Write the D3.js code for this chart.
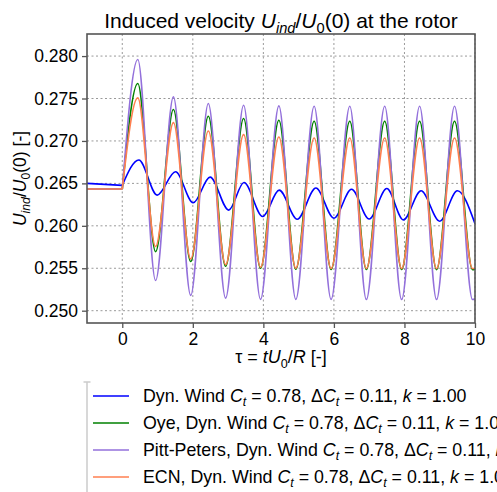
<!DOCTYPE html>
<html>
<head>
<meta charset="utf-8">
<script src="https://cdn.jsdelivr.net/npm/d3@7"></script>
<style>
  body { margin: 0; background: #fff; }
  svg { display: block; }
</style>
</head>
<body>
<div id="wrapper"></div>
<script>
// peaks / troughs
const tauBlue = [-1, 0, 0.47, 0.99, 1.51, 2.01, 2.49, 3.02, 3.45, 3.98, 4.45, 4.96, 5.49, 6.0, 6.5, 7.0, 7.5, 7.97, 8.47, 9.0, 9.5, 10]
const dynWind = [0.2650, 0.26476, 0.26775, 0.26362, 0.26637, 0.26271, 0.26574, 0.26185, 0.2651, 0.2611, 0.2642, 0.26077,
    0.26445, 0.2609, 0.2643, 0.2608, 0.2644, 0.2607, 0.26413, 0.26054, 0.26413, 0.26025]

const tauOsc = [-1, 0, 0.44, 0.945, 1.45, 1.94, 2.44, 2.93, 3.44, 3.92, 4.44, 4.92, 5.44, 5.92, 6.45, 6.92, 7.44, 7.92, 8.43, 8.91, 9.42, 9.93, 10]
const oye = [0.26433, 0.26433, 0.27677, 0.25695, 0.2737, 0.25579, 0.27291, 0.25523, 0.27264, 0.2550, 0.27244, 0.25488,
    0.27232, 0.25485, 0.27232, 0.25485, 0.27232, 0.25485, 0.27232, 0.25483, 0.27232, 0.25483, 0.2549]
const pittPeters = [0.26433, 0.26433, 0.2796, 0.25356, 0.27519, 0.2518, 0.27441, 0.25148, 0.27421, 0.25133, 0.27413, 0.25133,
    0.27409, 0.25133, 0.27409, 0.25131, 0.27409, 0.25131, 0.27409, 0.25131, 0.27409, 0.25131, 0.2514]
const ecn = [0.26433, 0.26433, 0.27507, 0.25756, 0.27216, 0.2561, 0.27117, 0.25543, 0.27074, 0.25512, 0.27046, 0.2550,
    0.27034, 0.25497, 0.27034, 0.25497, 0.27034, 0.25497, 0.27034, 0.25497, 0.27034, 0.25497, 0.2550]

const xTicks = [0, 2, 4, 6, 8, 10]
const yTicks = [0.250, 0.255, 0.260, 0.265, 0.270, 0.275, 0.280]
const seriesNames = ["Dyn. Wind", "Oye, Dyn. Wind", "Pitt-Peters, Dyn. Wind", "ECN, Dyn. Wind"]
const seriesColors = ["blue", "green", "mediumpurple", "coral"]
const caseText = { ct: "0.78", dct: "0.11", k: "1.00" }

const series = [
    { tau: tauBlue, vals: dynWind },
    { tau: tauOsc, vals: oye },
    { tau: tauOsc, vals: pittPeters },
    { tau: tauOsc, vals: ecn },
]

const dimensions = {
    width: 497,
    height: 492,
    margin: { top: 34, bottom: 169, left: 87, right: 22 }
}
dimensions.boundedWidth = dimensions.width - dimensions.margin.left - dimensions.margin.right
dimensions.boundedHeight = dimensions.height - dimensions.margin.top - dimensions.margin.bottom

const font = "'Liberation Sans', Arial, sans-serif"
const axisColor = "#555"
const fs = 17.5

const wrapper = d3.select("#wrapper").append("svg")
    .attr("width", dimensions.width).attr("height", dimensions.height)
    .style("font-family", font)
const bounded = wrapper.append("g")
    .attr("transform", `translate(${dimensions.margin.left},${dimensions.margin.top})`)

const xScale = d3.scaleLinear().domain([-1, 10]).range([0, dimensions.boundedWidth])
const yScale = d3.scaleLinear().domain([0.24855, 0.2826]).range([dimensions.boundedHeight, 0])

// grid
bounded.append("g").selectAll("line").data(xTicks).join("line")
    .attr("x1", d => xScale(d)).attr("x2", d => xScale(d))
    .attr("y1", 0).attr("y2", dimensions.boundedHeight)
bounded.append("g").selectAll("line").data(yTicks).join("line")
    .attr("x1", 0).attr("x2", dimensions.boundedWidth)
    .attr("y1", d => yScale(d)).attr("y2", d => yScale(d))
bounded.selectAll("g line")
    .attr("stroke", "#999").attr("stroke-width", 1).attr("stroke-dasharray", "2,2.5")

// lines: flat part before tau=0 linear, the rest smooth
bounded.append("clipPath").attr("id", "clip").append("rect")
    .attr("width", dimensions.boundedWidth).attr("height", dimensions.boundedHeight)
const lineGen = d3.line().x(d => xScale(d[0])).y(d => yScale(d[1])).curve(d3.curveMonotoneX)
const linear = d3.line().x(d => xScale(d[0])).y(d => yScale(d[1]))
const lines = bounded.append("g").attr("clip-path", "url(#clip)")
series.forEach((s, i) => {
    const pts = s.tau.map((t, j) => [t, s.vals[j]])
    const pre = pts.filter(p => p[0] <= 0)
    const post = pts.filter(p => p[0] >= 0)
    lines.append("path").attr("d", linear(pre))
        .attr("fill", "none").attr("stroke", seriesColors[i]).attr("stroke-width", 1.6)
    lines.append("path").attr("d", lineGen(post))
        .attr("fill", "none").attr("stroke", seriesColors[i]).attr("stroke-width", 1.6)
})

// axes
const xAxis = d3.axisBottom(xScale).tickValues(xTicks).tickSize(5).tickPadding(5)
const yAxis = d3.axisLeft(yScale).tickValues(yTicks).tickSize(5).tickPadding(4).tickFormat(d3.format(".3f"))
const gx = bounded.append("g").attr("transform", `translate(0,${dimensions.boundedHeight})`).call(xAxis)
const gy = bounded.append("g").call(yAxis)
for (const g of [gx, gy]) {
    g.select(".domain").remove()
    g.selectAll("line").attr("stroke", axisColor).attr("stroke-width", 1.3)
    g.selectAll("text").attr("fill", "#000").style("font-size", fs + "px").style("font-family", font)
}
bounded.append("rect")
    .attr("width", dimensions.boundedWidth).attr("height", dimensions.boundedHeight)
    .attr("fill", "none").attr("stroke", axisColor).attr("stroke-width", 1.6)

// rich text with italics and subscripts
function rich(sel, parts, size) {
    let shifted = false
    parts.forEach(p => {
        const ts = sel.append("tspan").text(p.t)
        if (p.i) ts.style("font-style", "italic")
        if (p.sub && !shifted) { ts.attr("dy", size * 0.25).style("font-size", (size * 0.7) + "px"); shifted = true }
        else if (p.sub) ts.style("font-size", (size * 0.7) + "px")
        else if (shifted) { ts.attr("dy", -size * 0.25); shifted = false }
    })
    return sel
}

rich(wrapper.append("text")
    .attr("x", dimensions.margin.left + dimensions.boundedWidth / 2).attr("y", 28)
    .attr("text-anchor", "middle").style("font-size", "21px"),
    [{ t: "Induced velocity " }, { t: "U", i: true }, { t: "ind", i: true, sub: true }, { t: "/" }, { t: "U", i: true },
     { t: "0", sub: true }, { t: "(0) at the rotor" }], 21)

rich(wrapper.append("text")
    .attr("x", dimensions.margin.left + dimensions.boundedWidth / 2).attr("y", 363)
    .attr("text-anchor", "middle").style("font-size", "18px"),
    [{ t: "τ = " }, { t: "tU", i: true }, { t: "0", sub: true }, { t: "/" }, { t: "R", i: true }, { t: " [-]" }], 18)

rich(wrapper.append("text")
    .attr("transform", `translate(26,${dimensions.margin.top + dimensions.boundedHeight / 2}) rotate(-90)`)
    .attr("text-anchor", "middle").style("font-size", "17.5px"),
    [{ t: "U", i: true }, { t: "ind", i: true, sub: true }, { t: "/" }, { t: "U", i: true },
     { t: "0", sub: true }, { t: "(0) [-]" }], 17.5)

// legend (runs off the figure like the original)
const legend = wrapper.append("g")
legend.append("path").attr("d", "M83.5,382H90.5M87,382V492")
    .attr("stroke", "#ccc").attr("stroke-width", 1.5).attr("fill", "none")
const legendY = d3.scalePoint().domain(seriesNames).range([396, 477])
seriesNames.forEach((name, i) => {
    const y = legendY(name)
    legend.append("line").attr("x1", 93).attr("x2", 129).attr("y1", y).attr("y2", y)
        .attr("stroke", seriesColors[i]).attr("stroke-width", 1.6)
    rich(legend.append("text").attr("x", 143).attr("y", y + 6).style("font-size", "17.8px"),
        [{ t: name + " " }, { t: "C", i: true }, { t: "t", i: true, sub: true }, { t: " = " + caseText.ct + ", Δ" },
         { t: "C", i: true }, { t: "t", i: true, sub: true }, { t: " = " + caseText.dct + ", " }, { t: "k", i: true },
         { t: " = " + caseText.k }], 17.8)
})
</script>
</body>
</html>
